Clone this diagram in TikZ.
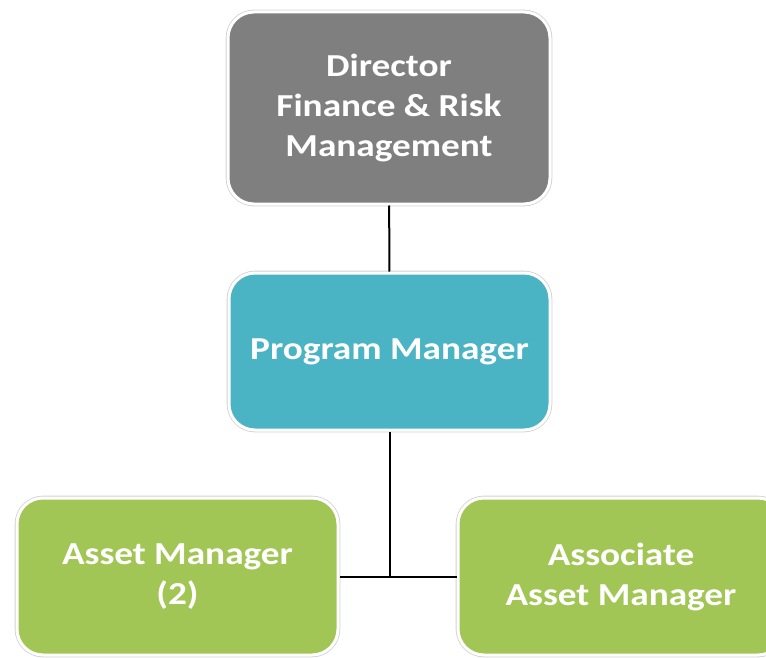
\documentclass[tikz,border=0pt]{standalone}
\usepackage{fontspec}
\setmainfont{Carlito}[FakeStretch=1.165]
\usepackage{tikz}
\usetikzlibrary{positioning,calc}
\definecolor{DirGray}{HTML}{7F7F7F}
\definecolor{ProgTeal}{HTML}{4BB4C4}
\definecolor{AssetGreen}{HTML}{A2C655}
\tikzset{
  org/box/.style={draw=white, line width=3pt, rounded corners=26pt,
    preaction={draw=black!18, line width=4.6pt},
    text=white, align=center, inner sep=2pt,
    font=\bfseries\fontsize{32}{40}\selectfont},
  org/director/.style={org/box, fill=DirGray, minimum width=322pt, minimum height=192pt},
  org/program/.style={org/box, fill=ProgTeal, minimum width=321pt, minimum height=157pt},
  org/staff/.style={org/box, fill=AssetGreen, minimum width=321pt, minimum height=157pt},
  org/line/.style={draw=black, line width=2pt}
}
\begin{document}
\begin{tikzpicture}[x=1pt, y=1pt]
\useasboundingbox (0,0) rectangle (766,-658);
\clip (0,0) rectangle (766,-658);

\node[org/director] (dir) at (389,-108) {Director\\Finance \& Risk\\Management};
\node[org/program] (prog) at (389.5,-351.5) {Program Manager};
\node[org/staff] (asset) at (177.5,-576.5) {Asset Manager\\(2)};
\node[org/staff, minimum width=326pt] (assoc) at (621,-576.5) {Associate\\Asset Manager};

\coordinate (jn) at (prog.south |- asset.east);
\draw[org/line] (dir) -- (prog);
\draw[org/line] (prog) -- (jn);
\draw[org/line] (asset) -- (assoc);
\end{tikzpicture}
\end{document}
